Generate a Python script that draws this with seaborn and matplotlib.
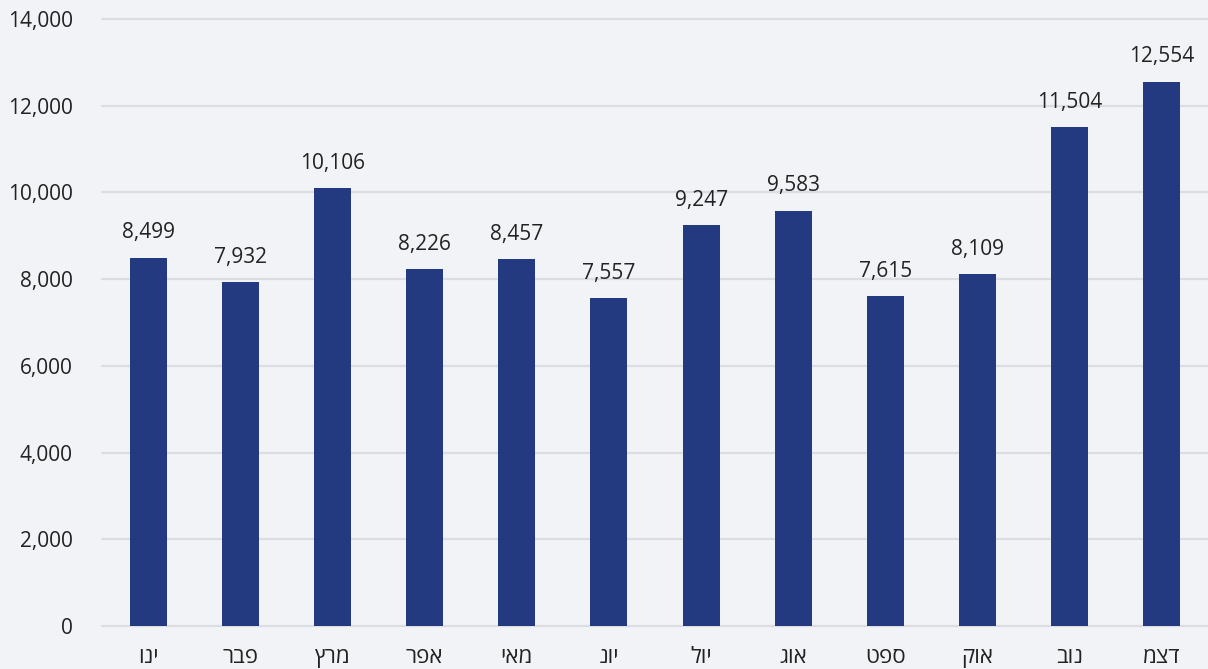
import matplotlib
matplotlib.use("Agg")
import matplotlib.pyplot as plt
import seaborn as sns
import pandas as pd

# Monthly totals
months = ["ינו", "פבר", "מרץ", "אפר", "מאי", "יונ", "יול", "אוג", "ספט", "אוק", "נוב", "דצמ"]
values = [8499, 7932, 10106, 8226, 8457, 7557, 9247, 9583, 7615, 8109, 11504, 12554]
y_ticks = [0, 2000, 4000, 6000, 8000, 10000, 12000, 14000]

BG = "#f2f3f6"
BAR = "#243a80"
GRID = "#dcdde2"
TEXT = "#222222"

sns.set_theme(style="white")
plt.rcParams["font.family"] = ["Open Sans", "DejaVu Sans"]

# matplotlib lays text out left-to-right, so Hebrew is reversed for display
display_months = [m[::-1] for m in months]
df = pd.DataFrame({"month": display_months, "value": values})

fig = plt.figure(figsize=(12.08, 6.69), dpi=100, facecolor=BG)
ax = fig.add_axes([102 / 1208, 1 - 626 / 669, 1 - 102 / 1208, (626 - 19) / 669])
ax.set_facecolor(BG)

sns.barplot(data=df, x="month", y="value", color=BAR, width=0.4,
            saturation=1, linewidth=0, edgecolor=BAR, ax=ax, zorder=3)

ax.set_ylim(0, 14000)
ax.set_xlim(-0.5, len(months) - 0.5)
ax.set_yticks(y_ticks)
ax.set_yticklabels([f"{t:,}" for t in y_ticks])
for t in y_ticks:
    ax.axhline(t, color=GRID, lw=1.6, zorder=1, clip_on=False)

for i, v in enumerate(values):
    ax.text(i, v + 330, f"{v:,}", ha="center", va="bottom",
            fontsize=15, color=TEXT, zorder=4)

for s in ax.spines.values():
    s.set_visible(False)
ax.tick_params(axis="y", length=0, pad=21, labelsize=15, labelcolor=TEXT)
ax.tick_params(axis="x", length=0, pad=15, labelsize=16, labelcolor=TEXT)
ax.set_xlabel("")
ax.set_ylabel("")

fig.savefig("out.png", dpi=100, facecolor=BG)
